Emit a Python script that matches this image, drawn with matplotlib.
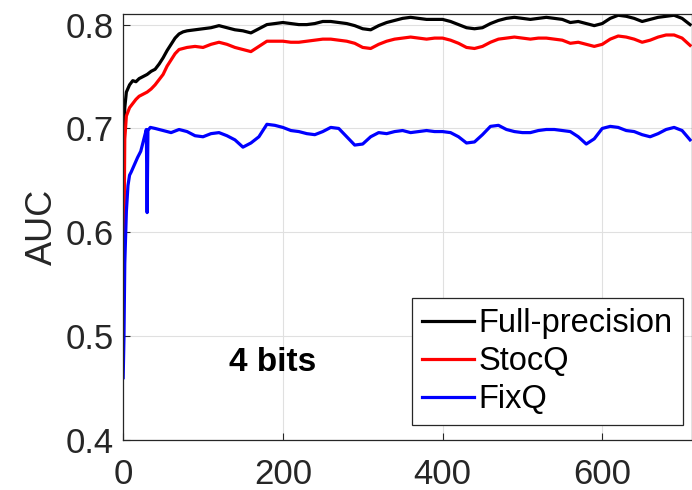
import matplotlib
matplotlib.use("Agg")
import matplotlib.pyplot as plt

plt.rcParams['font.family'] = ['Liberation Sans', 'DejaVu Sans']

# iterations and AUC
x_main = [0, 2, 4, 8, 12, 16, 20, 25, 30, 35, 40, 45, 50, 55, 60, 65, 70, 75, 80,
          90, 100, 110, 120, 130, 140, 150, 160, 170, 180, 190, 200, 210, 220, 230,
          240, 250, 260, 270, 280, 290, 300, 310, 320, 330, 340, 350, 360, 370, 380,
          390, 400, 410, 420, 430, 440, 450, 460, 470, 480, 490, 500, 510, 520, 530,
          540, 550, 560, 570, 580, 590, 600, 610, 620, 630, 640, 650, 660, 670, 680,
          690, 700, 710]

full_precision = [0.600, 0.720, 0.735, 0.742, 0.746, 0.745, 0.748, 0.750, 0.752, 0.755,
                  0.757, 0.762, 0.768, 0.775, 0.781, 0.787, 0.791, 0.793, 0.794,
                  0.795, 0.796, 0.797, 0.799, 0.797, 0.795, 0.794, 0.792, 0.796, 0.800,
                  0.801, 0.802, 0.801, 0.800, 0.800, 0.801, 0.803, 0.803, 0.802, 0.801,
                  0.799, 0.796, 0.795, 0.799, 0.802, 0.804, 0.806, 0.807, 0.806, 0.805,
                  0.805, 0.805, 0.803, 0.800, 0.797, 0.796, 0.797, 0.801, 0.804, 0.806,
                  0.807, 0.806, 0.805, 0.806, 0.807, 0.806, 0.805, 0.802, 0.803, 0.801,
                  0.799, 0.801, 0.806, 0.809, 0.808, 0.806, 0.803, 0.805, 0.807, 0.808,
                  0.809, 0.806, 0.800]

stocq = [0.500, 0.690, 0.712, 0.720, 0.724, 0.728, 0.731, 0.733, 0.735, 0.738,
         0.742, 0.747, 0.752, 0.760, 0.766, 0.772, 0.776, 0.777, 0.778,
         0.779, 0.778, 0.781, 0.783, 0.781, 0.778, 0.776, 0.774, 0.779, 0.784,
         0.784, 0.784, 0.783, 0.783, 0.784, 0.785, 0.786, 0.786, 0.785, 0.784,
         0.782, 0.778, 0.777, 0.781, 0.784, 0.786, 0.787, 0.788, 0.787, 0.786,
         0.787, 0.787, 0.785, 0.782, 0.778, 0.777, 0.779, 0.783, 0.786, 0.787,
         0.788, 0.787, 0.786, 0.787, 0.787, 0.786, 0.785, 0.782, 0.783, 0.781,
         0.779, 0.781, 0.786, 0.789, 0.788, 0.786, 0.783, 0.785, 0.788, 0.790,
         0.790, 0.787, 0.780]

x_fixq = [0, 1, 2, 4, 6, 8, 10, 14, 18, 22, 26, 29, 30, 31, 34, 40, 50, 60, 70, 80,
          90, 100, 110, 120, 130, 140, 150, 160, 170, 180, 190, 200, 210, 220, 230,
          240, 250, 260, 270, 280, 290, 300, 310, 320, 330, 340, 350, 360, 370, 380,
          390, 400, 410, 420, 430, 440, 450, 460, 470, 480, 490, 500, 510, 520, 530,
          540, 550, 560, 570, 580, 590, 600, 610, 620, 630, 640, 650, 660, 670, 680,
          690, 700, 710]

fixq = [0.460, 0.500, 0.570, 0.620, 0.645, 0.655, 0.658, 0.665, 0.672, 0.678, 0.690,
        0.699, 0.619, 0.698, 0.701, 0.700, 0.698, 0.696, 0.699, 0.697,
        0.693, 0.692, 0.695, 0.696, 0.693, 0.689, 0.682, 0.686, 0.692, 0.704,
        0.703, 0.701, 0.698, 0.697, 0.695, 0.694, 0.697, 0.701, 0.700, 0.692,
        0.684, 0.685, 0.692, 0.696, 0.695, 0.697, 0.698, 0.696, 0.697, 0.698,
        0.697, 0.697, 0.696, 0.692, 0.686, 0.687, 0.694, 0.702, 0.703, 0.699,
        0.697, 0.696, 0.696, 0.698, 0.699, 0.699, 0.698, 0.697, 0.692, 0.685,
        0.690, 0.700, 0.702, 0.701, 0.698, 0.697, 0.694, 0.692, 0.695, 0.699,
        0.701, 0.698, 0.689]

x_ticks = [0, 200, 400, 600]
y_ticks = [0.4, 0.5, 0.6, 0.7, 0.8]

fig = plt.figure(figsize=(6.92, 4.9), dpi=100)
ax = fig.add_axes([0.178, 0.102, 0.8215, 0.869])

ax.plot(x_main, full_precision, color='black', linewidth=2.3, label='Full-precision')
ax.plot(x_main, stocq, color='#ff0000', linewidth=2.3, label='StocQ')
ax.plot(x_fixq, fixq, color='#0000ff', linewidth=2.3, label='FixQ')

ax.set_xlim(0, 712)
ax.set_ylim(0.4, 0.81)
ax.set_xticks(x_ticks)
ax.set_yticks(y_ticks)
ax.set_yticklabels([f"{v:.1f}" for v in y_ticks])
ax.tick_params(direction='in', labelsize=25, colors='#262626', length=5)
ax.tick_params(axis='y', pad=7)
ax.tick_params(axis='x', pad=13)
ax.grid(True, color='#e0e0e0', linewidth=0.8)
ax.set_axisbelow(True)
for s in ax.spines.values():
    s.set_color('#262626')
    s.set_linewidth(0.9)
ax.set_ylabel('AUC', fontsize=26, color='#262626', labelpad=4)

ax.text(187, 0.475, '4 bits', fontsize=24, fontweight='bold', ha='center', va='center')

leg = ax.legend(loc='lower right', bbox_to_anchor=(0.984, 0.035), borderaxespad=0,
                fontsize=23.5, handlelength=1.6, handletextpad=0.15, labelspacing=0.22,
                fancybox=False, framealpha=1, borderpad=0.3)
leg.get_frame().set_edgecolor('#262626')
leg.get_frame().set_linewidth(0.9)

fig.savefig('out.png', dpi=100)
